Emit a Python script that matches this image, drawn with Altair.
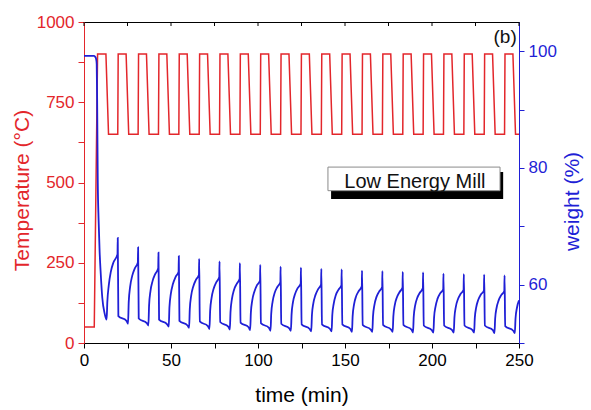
import altair as alt
import pandas as pd

RED = "#e3262b"
BLUE = "#1f1fd6"
FONT = "Liberation Sans"

# ---------------- furnace temperature programme ----------------
preheat_time = [0.0, 5.9]        # min, held at the start temperature
preheat_temp = 50                # °C
first_hold = [7.8, 12.6]         # first 900 °C step (min)
first_cool_end = 14.1            # 650 °C reached (min)
temp_high = 900
temp_low = 650
# onsets of the following 900 °C calcination steps (min)
heat_on = [19.4, 31.1, 42.8, 54.5, 66.2, 77.9, 89.6, 101.3, 113.0, 124.7,
           136.4, 148.1, 159.8, 171.5, 183.2, 194.9, 206.6, 218.3, 230.0, 241.7]
heat_ramp = 0.25                 # min to climb 650 -> 900
high_end = 4.8                   # end of 900 °C hold after onset (min)
low_start = 6.3                  # 650 °C reached after onset (min)

# ---------------- sample weight ----------------
start_time = [0.0, 5.8, 6.5, 7.0, 7.3, 7.6, 7.9, 8.4, 9.0, 9.6, 10.5, 11.9, 13.0]
start_weight = [99.2, 99.2, 99.0, 98.6, 97.8, 90.0, 78.0, 71.0, 65.5, 62.0, 57.8, 55.0, 54.0]

# one value per calcination step
pre_peak_weight = [65.2, 63.8, 62.8, 62.2, 61.7, 61.3, 61.0, 60.7, 60.4, 60.2,
                   60.0, 59.9, 59.7, 59.6, 59.5, 59.4, 59.2, 59.1, 59.0, 58.9]
peak_weight = [68.0, 66.4, 65.5, 64.9, 64.4, 64.0, 63.7, 63.4, 63.1, 62.9,
               62.7, 62.6, 62.4, 62.3, 62.2, 62.1, 61.9, 61.8, 61.7, 61.6]
settle_weight = [54.6, 54.2, 54.0, 53.8, 53.7, 53.6, 53.5, 53.4, 53.3, 53.2,
                 53.2, 53.2, 53.1, 53.1, 53.1, 53.0, 53.0, 53.0, 53.0, 52.9]
floor_weight = [53.8, 53.4, 53.2, 53.0, 52.9, 52.8, 52.7, 52.6, 52.5, 52.4,
                52.4, 52.4, 52.3, 52.3, 52.3, 52.2, 52.2, 52.2, 52.2, 52.1]
hook_weight = [53.3, 53.0, 52.8, 52.6, 52.4, 52.3, 52.2, 52.1, 52.1, 52.0,
               52.0, 51.9, 51.9, 51.9, 51.8, 51.8, 51.8, 51.8, 51.7, 51.7]
settle_dt, floor_dt, hook_dt = 0.35, 5.0, 5.9

# carbonation uptake during each 650 °C stage
rise_dt = [0.4, 1.2, 2.4, 3.9]
rise_weight = [
    [57.0, 59.8, 62.2, 63.8],
    [57.0, 59.6, 61.5, 62.8],
    [56.4, 58.9, 60.6, 61.8],
    [56.1, 58.4, 60.1, 61.3],
    [55.8, 58.1, 59.7, 60.8],
    [55.5, 57.7, 59.3, 60.4],
    [55.3, 57.5, 59.1, 60.1],
    [55.2, 57.3, 58.8, 59.9],
    [55.0, 57.1, 58.6, 59.6],
    [54.9, 57.0, 58.4, 59.4],
    [54.8, 56.8, 58.2, 59.2],
    [54.8, 56.7, 58.2, 59.1],
    [54.6, 56.6, 58.0, 58.9],
    [54.6, 56.5, 57.9, 58.8],
    [54.6, 56.5, 57.8, 58.7],
    [54.5, 56.4, 57.7, 58.6],
    [54.4, 56.2, 57.6, 58.5],
    [54.4, 56.2, 57.5, 58.4],
    [54.3, 56.1, 57.4, 58.3],
    [54.2, 56.0, 57.3, 58.2],
    [54.2, 56.0, 57.3, 58.2],
]

x_ticks = [0, 25, 50, 75, 100, 125, 150, 175, 200, 225, 250]
temp_ticks = [0, 125, 250, 375, 500, 625, 750, 875, 1000]
weight_ticks = [50, 60, 70, 80, 90, 100]
T_END = 250

# ---------------- assemble the series ----------------
tt = preheat_time + first_hold + [first_cool_end]
tv = [preheat_temp, preheat_temp, temp_high, temp_high, temp_low]
for h in heat_on:
    tt += [h, h + heat_ramp, h + high_end, h + low_start]
    tv += [temp_low, temp_high, temp_high, temp_low]
tt.append(T_END)
tv.append(temp_low)
temp_df = pd.DataFrame({"time": tt, "temp": tv})
temp_df["i"] = range(len(temp_df))

wt = list(start_time)
wv = list(start_weight)
for dt, val in zip(rise_dt, rise_weight[0]):
    wt.append(start_time[-1] + dt)
    wv.append(val)
for k, s in enumerate(heat_on):
    wt += [s - 0.15, s, s + settle_dt, s + floor_dt, s + hook_dt]
    wv += [pre_peak_weight[k], peak_weight[k], settle_weight[k],
           floor_weight[k], hook_weight[k]]
    for dt, val in zip(rise_dt, rise_weight[k + 1]):
        wt.append(s + hook_dt + dt)
        wv.append(val)
weight_df = pd.DataFrame({"time": wt, "weight": wv})
weight_df = weight_df[weight_df["time"] <= T_END].reset_index(drop=True)
weight_df["i"] = range(len(weight_df))

# ---------------- scales and axes ----------------
X_TITLE = "time (min)"
T_TITLE = "Temperature (°C)"

x_scale = alt.Scale(domain=[0, T_END], nice=False, zero=False)
x_axis = alt.Axis(
    values=x_ticks, format="d",
    labelExpr="datum.value % 50 == 0 ? datum.label : ''",
    domainColor="black", tickColor="black", labelColor="black", titleColor="black",
    tickSize=5, labelPadding=4, labelFontSize=17, titleFontSize=21,
    titleFontWeight="normal", labelFlush=False, labelOverlap=False, grid=False,
    titleY=58, titleBaseline="alphabetic",
)

temp_scale = alt.Scale(domain=[0, 1000], nice=False, zero=False)
temp_axis = alt.Axis(
    orient="left", values=temp_ticks, format="d",
    labelExpr="datum.value % 250 == 0 ? datum.label : ''",
    domainColor=RED, tickColor=RED, labelColor=RED, titleColor=RED,
    tickSize=6, labelPadding=4, labelFontSize=17, titleFontSize=21,
    titleFontWeight="normal", labelFlush=False, labelOverlap=False, grid=False,
    titleAngle=270, titleX=-56, titleY=168, titleBaseline="alphabetic",
    titleAlign="center",
)

weight_scale = alt.Scale(domain=[50, 105], nice=False, zero=False)
weight_axis = alt.Axis(
    orient="right", values=weight_ticks, format="d",
    labelExpr="datum.value == 60 || datum.value == 80 || datum.value == 100 ? datum.label : ''",
    domainColor=BLUE, tickColor=BLUE, labelColor=BLUE, titleColor=BLUE,
    tickSize=5, labelPadding=4, labelFontSize=17, titleFontSize=21,
    titleFontWeight="normal", labelFlush=False, labelOverlap=False, grid=False,
    titleAngle=270, titleX=59, titleY=179, titleBaseline="alphabetic",
    titleAlign="center",
)


def xq(field):
    return alt.X(field, type="quantitative", scale=x_scale, axis=x_axis, title=X_TITLE)


def tq(field):
    return alt.Y(field, type="quantitative", scale=temp_scale, axis=temp_axis, title=T_TITLE)


# ---------------- layers ----------------
temp_line = alt.Chart(temp_df).mark_line(color=RED, strokeWidth=1.5).encode(
    x=xq("time"), y=tq("temp"), order="i:Q",
)

top_ticks = alt.Chart(pd.DataFrame({"time": x_ticks})).mark_rule(
    color="black", strokeWidth=1
).encode(x=xq("time"), y=alt.value(0), y2=alt.value(4))

# "Low Energy Mill" label box with drop shadow
box_df = pd.DataFrame({"x0": [140.2], "x1": [239.1], "y0": [474.5], "y1": [548.0]})
shadow_df = pd.DataFrame({"x0": [142.0], "x1": [240.9], "y0": [448.6], "y1": [532.7]})

shadow = alt.Chart(shadow_df).mark_rect(color="black").encode(
    x=xq("x0"), x2="x1:Q", y=tq("y0"), y2="y1:Q",
)
box = alt.Chart(box_df).mark_rect(fill="white", stroke="#8a8a8a", strokeWidth=1).encode(
    x=xq("x0"), x2="x1:Q", y=tq("y0"), y2="y1:Q",
)
label = alt.Chart(pd.DataFrame({"x": [190.2], "y": [483.0], "t": ["Low Energy Mill"]})).mark_text(
    font=FONT, fontSize=20, color="#111111", align="center", baseline="alphabetic"
).encode(x=xq("x"), y=tq("y"), text="t:N")
panel = alt.Chart(pd.DataFrame({"x": [248.7], "y": [936.0], "t": ["(b)"]})).mark_text(
    font=FONT, fontSize=19, color="#111111", align="right", baseline="alphabetic"
).encode(x=xq("x"), y=tq("y"), text="t:N")

left_layer = alt.layer(temp_line, top_ticks, shadow, box, label, panel)

weight_line = alt.Chart(weight_df).mark_line(
    color=BLUE, strokeWidth=1.8, interpolate="monotone"
).encode(
    x=xq("time"),
    y=alt.Y("weight:Q", scale=weight_scale, axis=weight_axis, title="weight (%)"),
    order="i:Q",
)

chart = (
    alt.layer(left_layer, weight_line)
    .resolve_scale(y="independent")
    .properties(
        width=435, height=321,
        padding={"left": 84, "top": 22, "right": 72, "bottom": 67},
        autosize=alt.AutoSizeParams(type="none"),
        background="white",
    )
    .configure_view(stroke="black", strokeWidth=1)
    .configure_axis(labelFont=FONT, titleFont=FONT, titleFontWeight="normal")
)

chart.save("out.html", embed_options={"renderer": "svg", "actions": False})
